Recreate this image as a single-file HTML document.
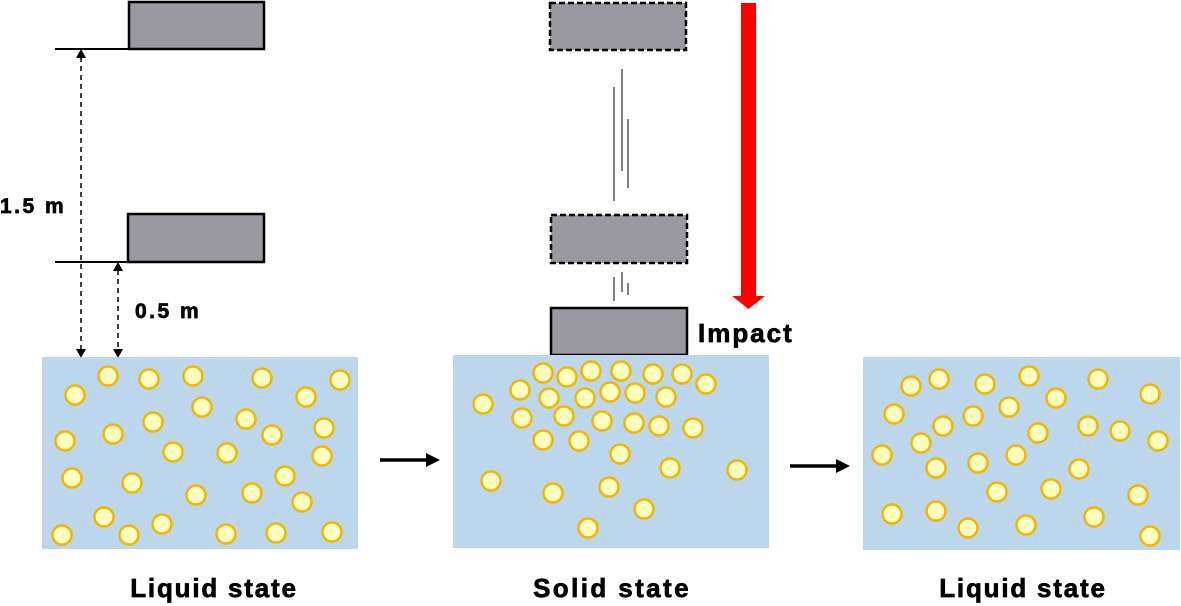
<!DOCTYPE html>
<html><head><meta charset="utf-8"><style>
html,body{margin:0;padding:0;background:#fff;}
svg{display:block;}
text{font-family:"Liberation Sans",Arial,sans-serif;font-weight:bold;fill:#000;stroke:#000;stroke-width:0.7;}
</style></head><body>
<svg width="1181" height="606" viewBox="0 0 1181 606" xmlns="http://www.w3.org/2000/svg">
<rect x="129" y="2" width="135" height="47" fill="#9a98a0" stroke="#000" stroke-width="2.5"/>
<line x1="55" y1="49" x2="130" y2="49" stroke="#000" stroke-width="2"/>
<rect x="128" y="214" width="136" height="48" fill="#9a98a0" stroke="#000" stroke-width="2.5"/>
<line x1="55" y1="262" x2="129" y2="262" stroke="#000" stroke-width="2"/>
<line x1="81" y1="57" x2="81" y2="350" stroke="#000" stroke-width="1.5" stroke-dasharray="5,4"/>
<path d="M76,58 L81,49 L86,58 z M76,349 L81,358 L86,349 z" fill="#000"/>
<line x1="118" y1="270" x2="118" y2="350" stroke="#000" stroke-width="1.5" stroke-dasharray="5,4"/>
<path d="M113,271 L118,262 L123,271 z M113,349 L118,358 L123,349 z" fill="#000"/>
<text x="0" y="213" font-size="21" letter-spacing="2.5">1.5 m</text>
<text x="135" y="318" font-size="21" letter-spacing="2.5">0.5 m</text>

<rect x="550" y="3" width="136" height="47" fill="#9a98a0" stroke="#000" stroke-width="2.5" stroke-dasharray="6,3"/>
<rect x="551" y="215" width="136" height="48" fill="#9a98a0" stroke="#000" stroke-width="2.5" stroke-dasharray="6,3"/>
<rect x="551" y="308" width="136" height="47" fill="#9a98a0" stroke="#000" stroke-width="2.5"/>
<g stroke="#555" stroke-width="1.5">
<line x1="614" y1="87" x2="614" y2="201"/>
<line x1="622" y1="69" x2="622" y2="171"/>
<line x1="628" y1="119" x2="628" y2="188"/>
<line x1="614" y1="277" x2="614" y2="301"/>
<line x1="622" y1="272" x2="622" y2="292"/>
<line x1="628" y1="283" x2="628" y2="295"/>
</g>
<rect x="741" y="3" width="15" height="294" fill="#ff0000"/>
<path d="M732,296 L765,296 L748.5,309 z" fill="#ff0000"/>
<text x="698" y="342" font-size="26" letter-spacing="2">Impact</text>

<rect x="42" y="357" width="316" height="192" fill="#bcd6ec"/>
<rect x="453" y="355" width="316" height="193" fill="#bcd6ec"/>
<rect x="863" y="357" width="317" height="193" fill="#bcd6ec"/>

<line x1="380" y1="460" x2="428" y2="460" stroke="#000" stroke-width="3.5"/>
<path d="M426,453 L440,460 L426,467 z" fill="#000"/>
<line x1="790" y1="466" x2="838" y2="466" stroke="#000" stroke-width="3.5"/>
<path d="M836,459 L850,466 L836,473 z" fill="#000"/>

<g fill="#ffffc0" stroke="#f5b400" stroke-width="2.5">
<circle cx="108" cy="376" r="9.5"/><circle cx="149" cy="379" r="9.5"/><circle cx="193" cy="376" r="9.5"/><circle cx="262" cy="378" r="9.5"/><circle cx="340" cy="380" r="9.5"/><circle cx="75" cy="395" r="9.5"/><circle cx="306" cy="397" r="9.5"/><circle cx="202" cy="407" r="9.5"/><circle cx="246" cy="419" r="9.5"/><circle cx="153" cy="422" r="9.5"/><circle cx="324" cy="428" r="9.5"/><circle cx="113" cy="434" r="9.5"/><circle cx="65" cy="441" r="9.5"/><circle cx="272" cy="435" r="9.5"/><circle cx="173" cy="452" r="9.5"/><circle cx="227" cy="453" r="9.5"/><circle cx="322" cy="456" r="9.5"/><circle cx="72" cy="478" r="9.5"/><circle cx="132" cy="483" r="9.5"/><circle cx="285" cy="476" r="9.5"/><circle cx="196" cy="495" r="9.5"/><circle cx="252" cy="493" r="9.5"/><circle cx="302" cy="502" r="9.5"/><circle cx="104" cy="517" r="9.5"/><circle cx="162" cy="524" r="9.5"/><circle cx="62" cy="535" r="9.5"/><circle cx="129" cy="535" r="9.5"/><circle cx="226" cy="534" r="9.5"/><circle cx="276" cy="533" r="9.5"/><circle cx="332" cy="532" r="9.5"/>
<circle cx="543" cy="373" r="9.5"/><circle cx="567" cy="377" r="9.5"/><circle cx="591" cy="371" r="9.5"/><circle cx="621" cy="371" r="9.5"/><circle cx="653" cy="374" r="9.5"/><circle cx="682" cy="374" r="9.5"/><circle cx="706" cy="384" r="9.5"/><circle cx="520" cy="390" r="9.5"/><circle cx="549" cy="398" r="9.5"/><circle cx="585" cy="398" r="9.5"/><circle cx="610" cy="392" r="9.5"/><circle cx="635" cy="393" r="9.5"/><circle cx="666" cy="397" r="9.5"/><circle cx="483" cy="404" r="9.5"/><circle cx="522" cy="418" r="9.5"/><circle cx="564" cy="416" r="9.5"/><circle cx="602" cy="421" r="9.5"/><circle cx="634" cy="423" r="9.5"/><circle cx="659" cy="426" r="9.5"/><circle cx="693" cy="428" r="9.5"/><circle cx="543" cy="440" r="9.5"/><circle cx="579" cy="441" r="9.5"/><circle cx="620" cy="454" r="9.5"/><circle cx="670" cy="468" r="9.5"/><circle cx="737" cy="470" r="9.5"/><circle cx="491" cy="481" r="9.5"/><circle cx="553" cy="493" r="9.5"/><circle cx="609" cy="487" r="9.5"/><circle cx="644" cy="509" r="9.5"/><circle cx="588" cy="528" r="9.5"/>
<circle cx="911" cy="386" r="9.5"/><circle cx="939" cy="379" r="9.5"/><circle cx="985" cy="384" r="9.5"/><circle cx="1029" cy="376" r="9.5"/><circle cx="1098" cy="379" r="9.5"/><circle cx="1150" cy="394" r="9.5"/><circle cx="1056" cy="398" r="9.5"/><circle cx="894" cy="414" r="9.5"/><circle cx="1009" cy="407" r="9.5"/><circle cx="973" cy="416" r="9.5"/><circle cx="943" cy="426" r="9.5"/><circle cx="1038" cy="433" r="9.5"/><circle cx="1088" cy="426" r="9.5"/><circle cx="1120" cy="431" r="9.5"/><circle cx="1158" cy="441" r="9.5"/><circle cx="921" cy="443" r="9.5"/><circle cx="882" cy="455" r="9.5"/><circle cx="1016" cy="455" r="9.5"/><circle cx="978" cy="463" r="9.5"/><circle cx="936" cy="468" r="9.5"/><circle cx="1079" cy="469" r="9.5"/><circle cx="997" cy="492" r="9.5"/><circle cx="1051" cy="489" r="9.5"/><circle cx="1138" cy="495" r="9.5"/><circle cx="892" cy="514" r="9.5"/><circle cx="936" cy="511" r="9.5"/><circle cx="968" cy="528" r="9.5"/><circle cx="1026" cy="525" r="9.5"/><circle cx="1094" cy="517" r="9.5"/><circle cx="1150" cy="536" r="9.5"/>
</g>

<text x="214" y="597" font-size="26" text-anchor="middle" letter-spacing="1.8">Liquid state</text>
<text x="612" y="597" font-size="26" text-anchor="middle" letter-spacing="2.4">Solid state</text>
<text x="1023" y="597" font-size="26" text-anchor="middle" letter-spacing="1.8">Liquid state</text>
</svg>
</body></html>
